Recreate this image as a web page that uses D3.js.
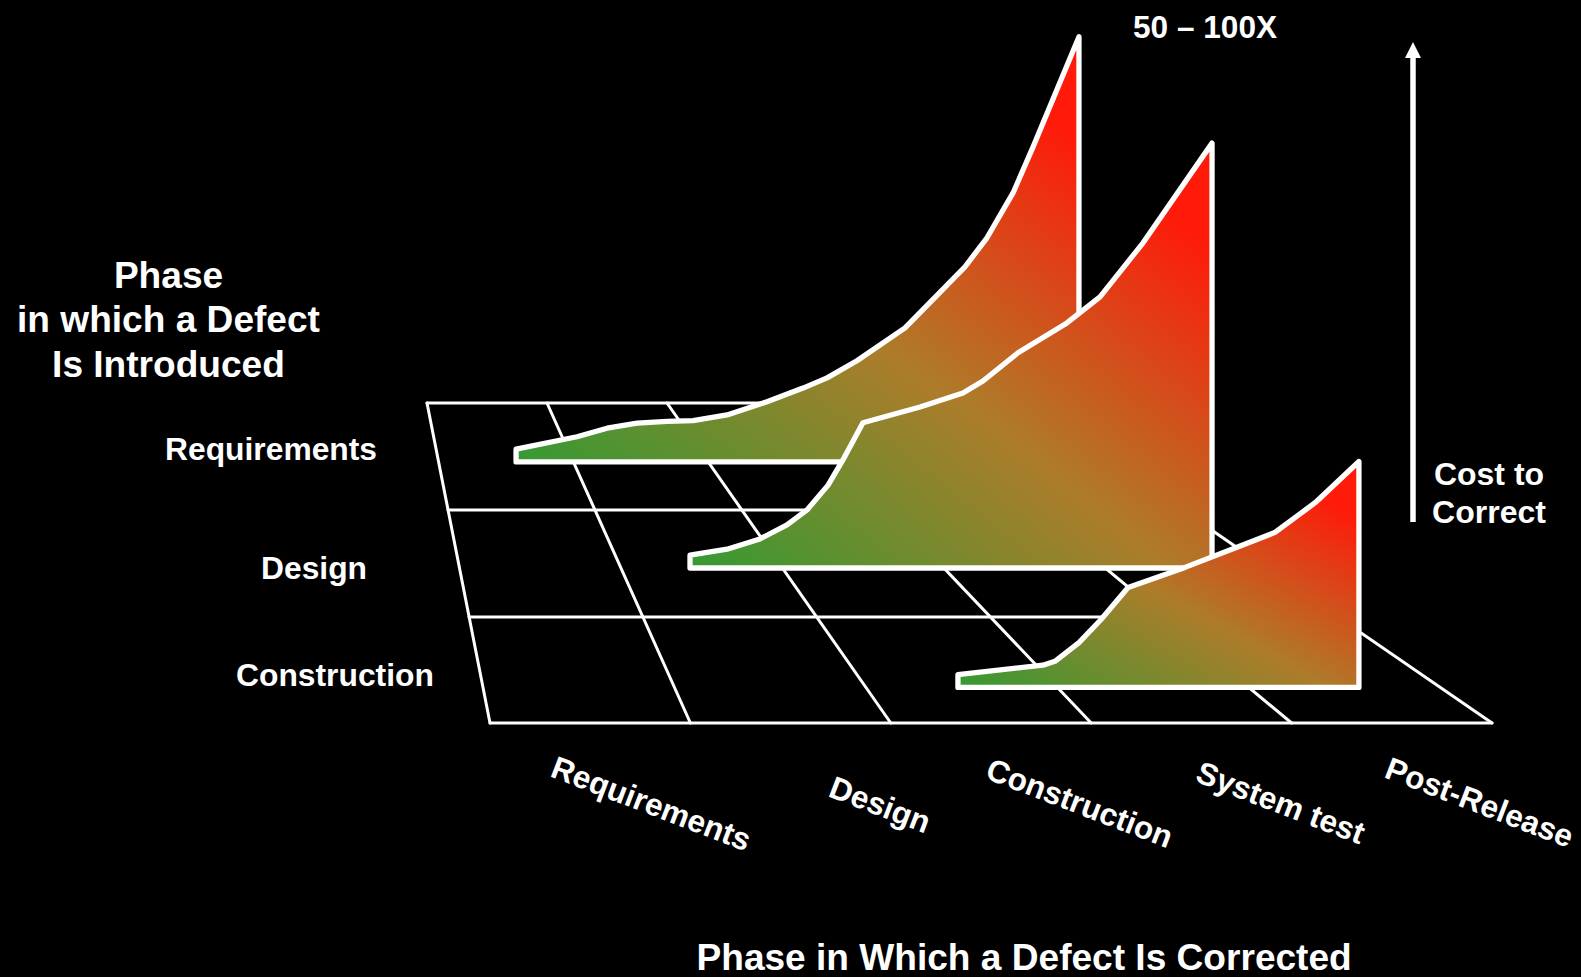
<!DOCTYPE html>
<html>
<head>
<meta charset="utf-8">
<style>
  html, body { margin: 0; padding: 0; background: #000; }
  svg { display: block; }
  text { font-family: "Liberation Sans", Arial, sans-serif; font-weight: bold; fill: #fff; }
</style>
<script src="https://cdn.jsdelivr.net/npm/d3@7"></script>
</head>
<body>
<svg id="chart"></svg>
<script>
// phases along the front edge and down the depth of the floor
const correctedPhases = ['Requirements', 'Design', 'Construction', 'System test', 'Post-Release'];
const introducedPhases = ['Requirements', 'Design', 'Construction'];

// cost curves: position along the front axis, cost to correct (peak = 100)
const reqPos = [0.13, 0.434, 0.584, 0.734, 0.884, 1.013, 1.183, 1.382, 1.562, 1.682, 1.831, 2.071, 2.37, 2.48, 2.61, 2.71, 2.939];
const reqCost = [3, 5.9, 7.9, 9.1, 9.5, 9.7, 11, 14.1, 17.3, 19.7, 23.7, 31.4, 45.7, 52.5, 63, 73.8, 99.6];
const desPos = [0.998, 1.183, 1.347, 1.482, 1.582, 1.687, 1.761, 1.861, 2.146, 2.36, 2.46, 2.635, 2.879, 3.044, 3.258, 3.603];
const desCost = [3, 4.4, 6.8, 10.1, 13.6, 19.4, 25.3, 34, 37.7, 41, 43.8, 50.4, 57.4, 63.5, 76.1, 99.5];
const conPos = [2.335, 2.759, 2.819, 2.939, 3.049, 3.184, 3.468, 3.737, 3.917, 4.119, 4.336];
const conCost = [3, 5.2, 6.1, 10.5, 15.9, 23.4, 28.1, 33, 36.3, 43.3, 52.9];

// depth on the floor where each wall stands
const wallDepth = [0.551, 1.542, 2.664];
const walls = [
  { pos: reqPos, cost: reqCost, depth: wallDepth[0] },
  { pos: desPos, cost: desCost, depth: wallDepth[1] },
  { pos: conPos, cost: conCost, depth: wallDepth[2] }
];

const width = 1581;
const height = 977;

const svg = d3.select('#chart').attr('width', width).attr('height', height);

// floor projection: back edge and front edge have their own x scale
const backX = d3.scaleLinear().domain([0, 5]).range([427, 1027]);
const frontX = d3.scaleLinear().domain([0, 5]).range([490, 1492]);
const floorY = d3.scaleLinear().domain([0, 1, 2, 3]).range([403, 510, 617, 723]);
const floorX = (phase, depth) => backX(phase) + (frontX(phase) - backX(phase)) * depth / 3;
const costH = d3.scaleLinear().domain([0, 100]).range([0, 427]);

// Gradient
const grad = svg.append('defs').append('linearGradient')
  .attr('id', 'costFill')
  .attr('x1', 0).attr('y1', 1)
  .attr('x2', 1).attr('y2', 0);
grad.selectAll('stop')
  .data([[0, '#359a33'], [0.46, '#ad7c2a'], [0.88, '#ff1a09'], [1, '#ff1a09']])
  .enter().append('stop')
  .attr('offset', d => d[0])
  .attr('stop-color', d => d[1]);

// Floor grid
const grid = svg.append('g')
  .attr('fill', 'none')
  .attr('stroke', '#fff')
  .attr('stroke-width', 3)
  .attr('stroke-linecap', 'round');

grid.selectAll('.col')
  .data(d3.range(0, correctedPhases.length + 1))
  .enter().append('line')
  .attr('class', 'col')
  .attr('x1', d => backX(d)).attr('y1', floorY(0))
  .attr('x2', d => frontX(d)).attr('y2', floorY(3));

grid.selectAll('.row')
  .data(d3.range(0, introducedPhases.length + 1))
  .enter().append('line')
  .attr('class', 'row')
  .attr('x1', d => floorX(0, d)).attr('y1', d => floorY(d))
  .attr('x2', d => floorX(5, d)).attr('y2', d => floorY(d));

// Walls, back to front
const area = d3.area()
  .x(d => frontX(d.pos))
  .y0(d => floorY(d.depth))
  .y1(d => floorY(d.depth) - costH(d.cost));

svg.selectAll('.wall')
  .data(walls)
  .enter().append('path')
  .attr('class', 'wall')
  .attr('d', w => area(w.pos.map((p, i) => ({ pos: p, cost: w.cost[i], depth: w.depth }))))
  .attr('fill', 'url(#costFill)')
  .attr('stroke', '#fff')
  .attr('stroke-width', 5.3)
  .attr('stroke-linejoin', 'round');

// Cost arrow
const arrowY = d3.scaleLinear().domain([0, 1]).range([522, 42]);
svg.append('line')
  .attr('x1', 1413).attr('x2', 1413)
  .attr('y1', arrowY(0)).attr('y2', arrowY(0.97))
  .attr('stroke', '#fff')
  .attr('stroke-width', 5.5);
svg.append('path')
  .attr('d', d3.line()([[1413, arrowY(1)], [1421, 58], [1405, 58]]) + 'Z')
  .attr('fill', '#fff');

// Labels
const addText = (str, x, y, size, anchor) => svg.append('text')
  .attr('x', x).attr('y', y)
  .attr('font-size', size)
  .attr('text-anchor', anchor || 'start')
  .text(str);

addText('50 – 100X', 1133, 38, 31.6);
addText('Phase', 168.5, 288, 37.1, 'middle');
addText('in which a Defect', 168.5, 332, 37.1, 'middle');
addText('Is Introduced', 168.5, 376.5, 37.1, 'middle');
addText('Cost to', 1489, 485, 32, 'middle');
addText('Correct', 1489, 523, 32, 'middle');
addText('Phase in Which a Defect Is Corrected', 696.5, 970, 37.1);

const rowLabelX = [165, 261, 236];
const rowLabelY = [460, 579, 686];
introducedPhases.forEach((p, i) => addText(p, rowLabelX[i], rowLabelY[i], 31.8));

const colLabelX = [549, 827, 984, 1194, 1383];
const colLabelY = [776, 796, 778, 781, 777];
svg.selectAll('.col-label')
  .data(correctedPhases)
  .enter().append('text')
  .attr('class', 'col-label')
  .attr('font-size', 31.6)
  .attr('transform', (d, i) => `translate(${colLabelX[i]},${colLabelY[i]}) rotate(21)`)
  .text(d => d);
</script>
</body>
</html>
